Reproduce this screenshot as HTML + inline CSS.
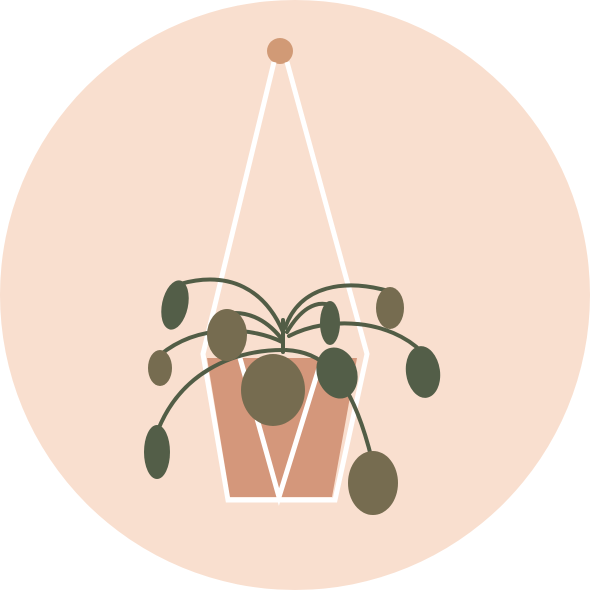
<!DOCTYPE html>
<html><head><meta charset="utf-8"><style>html,body{margin:0;padding:0;background:#fff}svg{display:block}</style></head>
<body>
<svg width="590" height="590" viewBox="0 0 590 590">
<circle cx="295" cy="295" r="295" fill="#f9dfcf"/>
<circle cx="280" cy="51" r="13" fill="#d19a76"/>
<g fill="none" stroke="#fff" stroke-width="5" stroke-linejoin="miter">
<polyline points="274,62 203,354 228,500 335,500 367,354 287,62"/>
</g>
<polygon points="207,358 357,358 332,497 230,497" fill="#d4977b"/>
<g stroke="#fff" stroke-width="5" fill="none">
<polyline points="240,358 279,497 319,368"/>
</g>
<g fill="none" stroke="#525d46" stroke-width="4" stroke-linecap="round">
<path d="M283,352 L283,320"/>
<path d="M283,332 C265,290 230,270 180,284"/>
<path d="M285,328 C300,285 345,278 392,292"/>
<path d="M281,338 C265,318 245,310 225,314"/>
<path d="M287,332 C300,310 315,300 330,305"/>
<path d="M289,336 C330,315 390,320 422,352"/>
<path d="M282,342 C255,328 200,322 160,355"/>
<path d="M283,350 C230,350 180,375 158,430"/>
<path d="M286,350 C320,352 350,370 372,460"/>
</g>
<g>
<ellipse cx="175" cy="305" rx="13" ry="25" transform="rotate(12 175 305)" fill="#535e48"/>
<ellipse cx="227" cy="335" rx="20" ry="26" fill="#766c50"/>
<ellipse cx="160" cy="368" rx="12" ry="18" fill="#766c50"/>
<ellipse cx="330" cy="323" rx="10" ry="22" fill="#535e48"/>
<ellipse cx="390" cy="308" rx="14" ry="21" fill="#766c50"/>
<ellipse cx="423" cy="372" rx="17" ry="26" transform="rotate(-8 423 372)" fill="#535e48"/>
<ellipse cx="157" cy="452" rx="13" ry="27" fill="#535e48"/>
<ellipse cx="273" cy="390" rx="32" ry="36" fill="#766c50"/>
<ellipse cx="337" cy="373" rx="20" ry="26" transform="rotate(-18 337 373)" fill="#535e48"/>
<ellipse cx="373" cy="483" rx="25" ry="32" fill="#766c50"/>
</g>
</svg>
</body></html>
